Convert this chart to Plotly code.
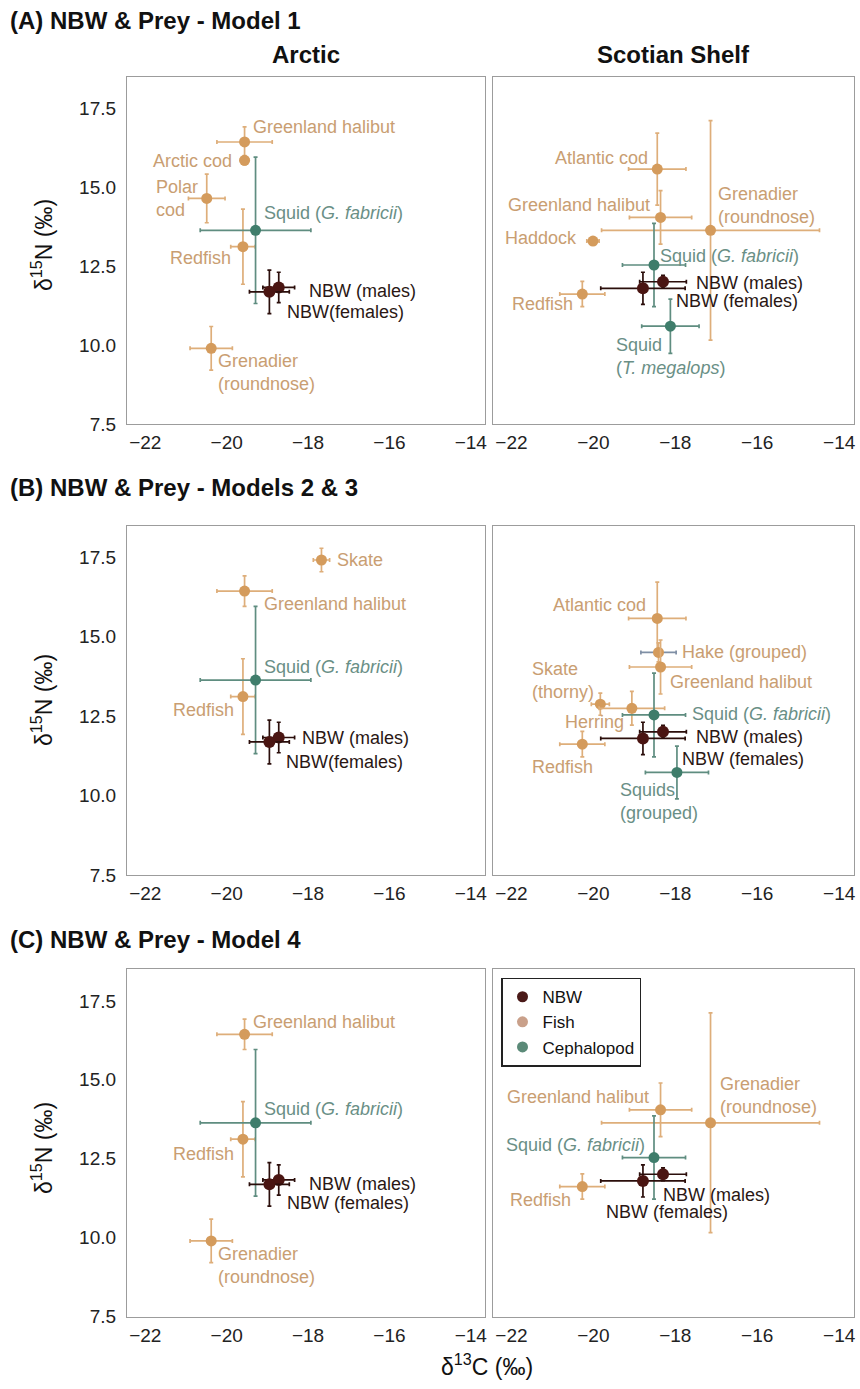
import plotly.graph_objects as go

# ---------------- data ----------------
arctic_species = ["Greenland halibut", "Arctic cod", "Polar cod", "Squid (G. fabricii)", "Redfish",
                  "NBW (males)", "NBW (females)", "Grenadier (roundnose)", "Skate"]
arctic_group = ["Fish", "Fish", "Fish", "Cephalopod", "Fish", "NBW", "NBW", "Fish", "Fish"]
arctic_d13c = [-19.56, -19.56, -20.49, -19.29, -19.60, -18.72, -18.95, -20.38, -17.67]
arctic_d13c_sd = [0.68, 0.10, 0.45, 1.36, 0.30, 0.39, 0.49, 0.52, 0.20]
arctic_d15n = [16.44, 15.86, 14.65, 13.64, 13.12, 11.83, 11.69, 9.90, 17.42]
arctic_d15n_sd = [0.48, 0.15, 0.77, 2.32, 1.19, 0.48, 0.69, 0.69, 0.37]

scotian_species = ["Atlantic cod", "Greenland halibut", "Grenadier (roundnose)", "Haddock",
                   "Squid (G. fabricii)", "NBW (males)", "NBW (females)", "Redfish",
                   "Squid (T. megalops)", "Hake (grouped)", "Skate (thorny)", "Herring",
                   "Squids (grouped)"]
scotian_group = ["Fish", "Fish", "Fish", "Fish", "Cephalopod", "NBW", "NBW", "Fish",
                 "Cephalopod", "Fish", "Fish", "Fish", "Cephalopod"]
scotian_d13c = [-18.44, -18.36, -17.14, -20.01, -18.52, -18.30, -18.79, -20.27,
                -18.12, -18.41, -19.83, -19.06, -17.96]
scotian_d13c_sd = [0.70, 0.76, 2.66, 0.15, 0.77, 0.57, 1.03, 0.55, 0.70, 0.43, 0.22, 0.80, 0.77]
scotian_d15n = [15.58, 14.05, 13.64, 13.30, 12.54, 12.01, 11.80, 11.62, 10.60, 14.51,
                12.88, 12.75, 10.73]
scotian_d15n_sd = [1.14, 0.85, 3.48, 0.10, 1.32, 0.20, 0.51, 0.40, 0.86, 0.30, 0.35, 0.53, 0.83]

model1_arctic = ["Greenland halibut", "Arctic cod", "Polar cod", "Squid (G. fabricii)", "Redfish",
                 "NBW (males)", "NBW (females)", "Grenadier (roundnose)"]
model1_scotian = ["Atlantic cod", "Greenland halibut", "Grenadier (roundnose)", "Haddock",
                  "Squid (G. fabricii)", "NBW (males)", "NBW (females)", "Redfish",
                  "Squid (T. megalops)"]
model23_arctic = ["Skate", "Greenland halibut", "Squid (G. fabricii)", "Redfish",
                  "NBW (males)", "NBW (females)"]
model23_scotian = ["Atlantic cod", "Hake (grouped)", "Greenland halibut", "Skate (thorny)",
                   "Herring", "Squid (G. fabricii)", "NBW (males)", "NBW (females)",
                   "Redfish", "Squids (grouped)"]
model4_arctic = ["Greenland halibut", "Squid (G. fabricii)", "Redfish", "NBW (males)",
                 "NBW (females)", "Grenadier (roundnose)"]
model4_scotian = ["Greenland halibut", "Grenadier (roundnose)", "Squid (G. fabricii)",
                  "NBW (males)", "NBW (females)", "Redfish"]

x_tickvals = [-22, -20, -18, -16, -14]
x_ticktext = ["\u221222", "\u221220", "\u221218", "\u221216", "\u221214"]
y_tickvals = [7.5, 10, 12.5, 15, 17.5]
y_ticktext = ["7.5", "10.0", "12.5", "15.0", "17.5"]
legend_groups = ["NBW", "Fish", "Cephalopod"]

# ---------------- styles ----------------
FONT = "Liberation Sans, Arial, Helvetica, sans-serif"
W, H = 860, 1389
marker_col = {"Fish": "#d49b5c", "Cephalopod": "#3f7d6b", "NBW": "#4a1512"}
bar_col = {"Fish": "#deae7a", "Cephalopod": "#5f8d80", "NBW": "#2b0e0b"}
text_col = {"Fish": "#c99e72", "Cephalopod": "#6a8f86", "NBW": "#2a1714"}
legend_col = {"NBW": "#4a1a18", "Fish": "#c9a08a", "Cephalopod": "#5b8a78"}
special_xbar = {"Hake (grouped)": "#7f8fa5"}

GS = "Squid (<i>G. fabricii</i>)"
# label specs: text, xanchor, xshift, yshift (px)
labels = {
    1: {"Greenland halibut": ("Greenland halibut", "left", 7, 15),
        "Arctic cod": ("Arctic cod", "right", -12, -1),
        "Polar cod": ("Polar<br>cod", "right", -8, 0),
        "Squid (G. fabricii)": (GS, "left", 7, 17),
        "Redfish": ("Redfish", "right", -11, -11),
        "NBW (males)": ("NBW (males)", "left", 29, -4),
        "NBW (females)": ("NBW(females)", "left", 17, -20),
        "Grenadier (roundnose)": ("Grenadier<br>(roundnose)", "left", 6, -24)},
    2: {"Atlantic cod": ("Atlantic cod", "right", -8, 11),
        "Greenland halibut": ("Greenland halibut", "right", -10, 12),
        "Grenadier (roundnose)": ("Grenadier<br>(roundnose)", "left", 6, 25),
        "Haddock": ("Haddock", "right", -15, 3),
        "Squid (G. fabricii)": (GS, "left", 5, 9),
        "NBW (males)": ("NBW (males)", "left", 32, -1),
        "NBW (females)": ("NBW (females)", "left", 32, -13),
        "Redfish": ("Redfish", "right", -8, -10),
        "Squid (T. megalops)": ("Squid<br>(<i>T. megalops</i>)", "left", -55, -30)},
    3: {"Skate": ("Skate", "left", 15, 0),
        "Greenland halibut": ("Greenland halibut", "left", 18, -13),
        "Squid (G. fabricii)": (GS, "left", 7, 13),
        "Redfish": ("Redfish", "right", -8, -13),
        "NBW (males)": ("NBW (males)", "left", 22, 0),
        "NBW (females)": ("NBW(females)", "left", 16, -20)},
    4: {"Atlantic cod": ("Atlantic cod", "right", -10, 13),
        "Hake (grouped)": ("Hake (grouped)", "left", 22, 0),
        "Greenland halibut": ("Greenland halibut", "left", 8, -15),
        "Skate (thorny)": ("Skate<br>(thorny)", "right", -5, 24),
        "Herring": ("Herring", "right", -7, -14),
        "Squid (G. fabricii)": (GS, "left", 37, 1),
        "NBW (males)": ("NBW (males)", "left", 32, -5),
        "NBW (females)": ("NBW (females)", "left", 38, -21),
        "Redfish": ("Redfish", "right", 12, -23),
        "Squids (grouped)": ("Squids<br>(grouped)", "left", -58, -29)},
    5: {"Greenland halibut": ("Greenland halibut", "left", 7, 12),
        "Squid (G. fabricii)": (GS, "left", 7, 14),
        "Redfish": ("Redfish", "right", -8, -15),
        "NBW (males)": ("NBW (males)", "left", 29, -4),
        "NBW (females)": ("NBW (females)", "left", 17, -19),
        "Grenadier (roundnose)": ("Grenadier<br>(roundnose)", "left", 6, -25)},
    6: {"Greenland halibut": ("Greenland halibut", "right", -11, 13),
        "Grenadier (roundnose)": ("Grenadier<br>(roundnose)", "left", 8, 27),
        "Squid (G. fabricii)": (GS, "right", -8, 13),
        "NBW (males)": ("NBW (males)", "left", -1, -21),
        "NBW (females)": ("NBW (females)", "left", -38, -31),
        "Redfish": ("Redfish", "right", -10, -13)},
}

arctic = dict(species=arctic_species, group=arctic_group, c=arctic_d13c, csd=arctic_d13c_sd,
              n=arctic_d15n, nsd=arctic_d15n_sd)
scotian = dict(species=scotian_species, group=scotian_group, c=scotian_d13c, csd=scotian_d13c_sd,
               n=scotian_d15n, nsd=scotian_d15n_sd)
panels = {1: (arctic, model1_arctic), 2: (scotian, model1_scotian),
          3: (arctic, model23_arctic), 4: (scotian, model23_scotian),
          5: (arctic, model4_arctic), 6: (scotian, model4_scotian)}

# panel pixel boxes (left, right, top, bottom)
col_x = {0: (127, 485), 1: (493, 853.5)}
row_y = {0: (77, 424), 1: (525.7, 875), 2: (969.3, 1316.7)}


def px(x):
    return x / W


def py(y):
    return 1 - y / H


fig = go.Figure()
order = {"Fish": 0, "Cephalopod": 1, "NBW": 2}
for k, (ds, members) in panels.items():
    ax = "" if k == 1 else str(k)
    idx = [ds["species"].index(s) for s in members]
    idx.sort(key=lambda i: order[ds["group"][i]])
    for i in idx:
        sp, g = ds["species"][i], ds["group"][i]
        fig.add_trace(go.Scatter(
            x=[ds["c"][i]], y=[ds["n"][i]], mode="markers", showlegend=False,
            xaxis="x" + ax, yaxis="y" + ax, hoverinfo="skip",
            marker=dict(color=marker_col[g], size=11 if g != "NBW" else 12, line=dict(width=0)),
            error_x=dict(type="data", array=[ds["csd"][i]], color=special_xbar.get(sp, bar_col[g]),
                         thickness=1.7, width=2),
            error_y=dict(type="data", array=[ds["nsd"][i]], color=bar_col[g], thickness=1.7, width=2),
        ))
        t, anc, dx, dy = labels[k][sp]
        fig.add_annotation(x=ds["c"][i], y=ds["n"][i], xref="x" + ax, yref="y" + ax,
                           text=t, showarrow=False, xanchor=anc, yanchor="middle", align="left",
                           xshift=dx, yshift=dy, borderpad=0,
                           font=dict(family=FONT, size=18, color=text_col[g]))

for g in legend_groups:
    fig.add_trace(go.Scatter(x=[None], y=[None], mode="markers", name=g, xaxis="x6", yaxis="y6",
                             marker=dict(color=legend_col[g], size=11)))

axis_common = dict(showline=True, mirror=True, linecolor="#9c9c9c", linewidth=1.3, ticks="",
                   showgrid=False, zeroline=False, automargin=False,
                   tickfont=dict(family=FONT, size=19, color="#222222"))
layout = {}
for k in range(1, 7):
    r, c = (k - 1) // 2, (k - 1) % 2
    x0, x1 = col_x[c]
    y0, y1 = row_y[r]
    ax = "" if k == 1 else str(k)
    layout["xaxis" + ax] = dict(axis_common, domain=[px(x0), px(x1)], range=[-22.45, -13.65],
                                tickvals=x_tickvals, ticktext=x_ticktext, anchor="y" + ax,
                                ticklabelstandoff=1)
    layout["yaxis" + ax] = dict(axis_common, domain=[py(y1), py(y0)], range=[7.5, 18.5],
                                tickvals=y_tickvals, ticktext=y_ticktext, anchor="x" + ax,
                                showticklabels=(c == 0), ticklabelstandoff=6)

fig.update_layout(**layout)
fig.update_layout(width=W, height=H, margin=dict(l=0, r=0, t=0, b=0),
                  paper_bgcolor="white", plot_bgcolor="white",
                  font=dict(family=FONT),
                  legend=dict(x=px(501), y=py(977.7), xanchor="left", yanchor="top",
                              bordercolor="#222222", borderwidth=1.5, bgcolor="white",
                              font=dict(family=FONT, size=17, color="#111111"),
                              tracegroupgap=0))

titles = [("(A) NBW & Prey - Model 1", 20), ("(B) NBW & Prey - Models 2 & 3", 487),
          ("(C) NBW & Prey - Model 4", 940)]
for t, yy in titles:
    fig.add_annotation(x=px(8), y=py(yy), xref="paper", yref="paper", text="<b>%s</b>" % t,
                       showarrow=False, xanchor="left", yanchor="middle",
                       font=dict(family=FONT, size=24, color="#111111"))
for t, xx in [("Arctic", 306), ("Scotian Shelf", 673)]:
    fig.add_annotation(x=px(xx), y=py(55), xref="paper", yref="paper", text="<b>%s</b>" % t,
                       showarrow=False, xanchor="center", yanchor="middle",
                       font=dict(family=FONT, size=24, color="#111111"))
for yy in [245, 700, 1148]:
    fig.add_annotation(x=px(42), y=py(yy), xref="paper", yref="paper",
                       text="\u03b4<sup>15</sup>N (\u2030)", textangle=-90, showarrow=False,
                       xanchor="center", yanchor="middle",
                       font=dict(family=FONT, size=23, color="#111111"))
fig.add_annotation(x=px(487), y=py(1365), xref="paper", yref="paper",
                   text="\u03b4<sup>13</sup>C (\u2030)", showarrow=False,
                   xanchor="center", yanchor="middle",
                   font=dict(family=FONT, size=23, color="#111111"))

fig.write_html("out.html")
